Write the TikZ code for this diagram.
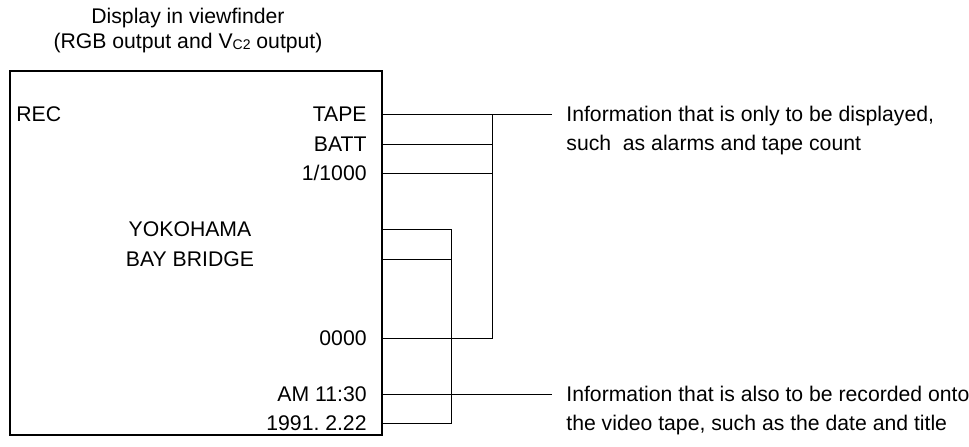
\documentclass[tikz,border=0pt]{standalone}
\usepackage{fontspec}
\setmainfont{Liberation Sans}
\frenchspacing
\usetikzlibrary{positioning}
\begin{document}
\begin{tikzpicture}[
      x=0.5pt, y=-0.5pt,
      font=\fontsize{10.6}{12}\selectfont,
      screen/.style={draw, line width=1.1pt, inner sep=0pt,
                     minimum width=186pt, minimum height=182pt},
      item/.style={inner sep=0pt, text height=7.6pt, text depth=0pt},
      note/.style={inner sep=0pt, align=left, anchor=north west,
                   font=\fontsize{10.6}{14.5}\selectfont},
      wire/.style={line width=0.5pt}
    ]
    \useasboundingbox (0,0) rectangle (969,446);
    \node[inner sep=0pt, align=center, anchor=north,
          font=\fontsize{10.6}{12.5}\selectfont] (title) at (188,8)
      {Display in viewfinder\\(RGB output and V\raisebox{-0.4pt}{\fontsize{7}{7}\selectfont C2} output)};
    \node[screen] (scr) at (196,253) {};
    \node[item, anchor=west] (rec)   at (16,114)  {REC};
    \node[item, anchor=east] (tape)  at (367,114) {TAPE};
    \node[item, anchor=east] (batt)  at (367,144) {BATT};
    \node[item, anchor=east] (shut)  at (367,173) {1/1000};
    \node[item] (place)  at (190,229) {YOKOHAMA};
    \node[item] (bridge) at (190,259) {BAY BRIDGE};
    \node[item, anchor=east] (count) at (367,338) {0000};
    \node[item, anchor=east] (time)  at (367,394) {AM 11:30};
    \node[item, anchor=east] (date)  at (367,423) {1991. 2.22};
    \coordinate (busa) at (492,114);
    \coordinate (busb) at (451,229);
    \coordinate (enda) at (552,114);
    \coordinate (endb) at (552,394);
    \node[note] (dispnote) at (566,106)
      {Information that is only to be displayed,\\such\ \ as alarms and tape count};
    \node[note] (recnote) at (566,386)
      {Information that is also to be recorded onto\\the video tape, such as the date and title};
    \draw[wire] (tape -| scr.east) -- (enda);
    \draw[wire] (batt -| scr.east) -- (batt -| busa);
    \draw[wire] (shut -| scr.east) -- (shut -| busa);
    \draw[wire] (count -| scr.east) -- (count -| busa) -- (busa);
    \draw[wire] (place -| scr.east) -- (busb);
    \draw[wire] (bridge -| scr.east) -- (bridge -| busb);
    \draw[wire] (date -| scr.east) -- (date -| busb) -- (busb);
    \draw[wire] (time -| scr.east) -- (endb);
  \end{tikzpicture}
\end{document}
